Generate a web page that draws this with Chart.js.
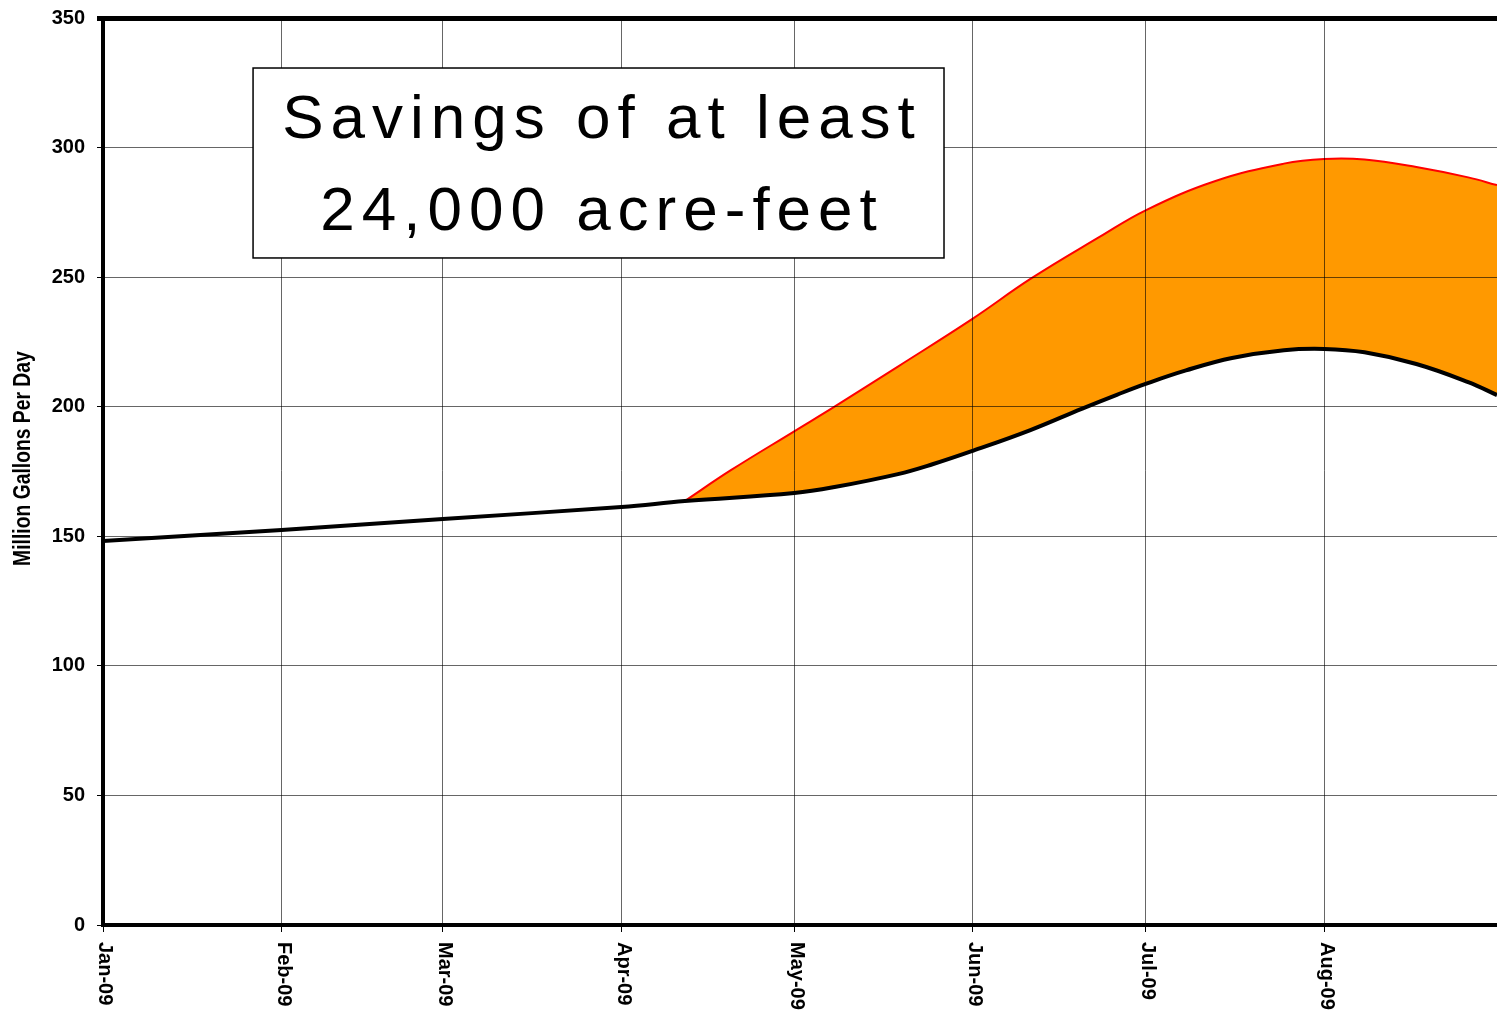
<!DOCTYPE html>
<html>
<head>
<meta charset="utf-8">
<script src="https://cdn.jsdelivr.net/npm/chart.js@4/dist/chart.umd.min.js"></script>
<style>
  html, body { margin: 0; padding: 0; background: #fff; }
  canvas { display: block; }
</style>
</head>
<body>
<canvas id="demandChart" width="1497" height="1015"></canvas>
<script>
// days counted from Jan 1 2009
const monthDays = [0, 31, 59, 90, 120, 151, 181, 212];
const monthLabels = ['Jan-09', 'Feb-09', 'Mar-09', 'Apr-09', 'May-09', 'Jun-09', 'Jul-09', 'Aug-09'];

// demand with conservation (black line)
const baseDays = [0, 31, 59, 90, 101, 120, 127, 138, 144, 151, 161, 170, 176, 181, 188, 196, 205, 212, 219, 228, 237, 242];
const baseValues = [148.2, 152.4, 156.7, 161.3, 163.6, 166.7, 169, 174, 177.8, 183, 191, 199.3, 204.6, 208.8, 214, 218.8, 221.8, 222.3, 221, 216.5, 209.5, 204.5];

// demand without conservation (red line)
const peakDays = [101, 109, 120, 127, 138, 151, 161, 173, 181, 193, 205, 212, 219, 228, 237, 242];
const peakValues = [163.6, 175.5, 190.5, 200, 215.5, 234, 249.3, 265.5, 275.8, 287, 293.8, 295.6, 295.4, 292.5, 288.5, 285.5];

const yTitle = 'Million Gallons Per Day';
const calloutLines = ['Savings of at least', '24,000 acre-feet'];

const toPoints = (xs, ys) => xs.map((x, i) => ({ x: x, y: ys[i] }));

const axisTextPlugin = {
    id: 'axisText',
    afterDraw(chart) {
        const ctx = chart.ctx;
        const xScale = chart.scales.x;
        const yScale = chart.scales.y;
        ctx.save();
        ctx.fillStyle = '#000';
        ctx.font = 'bold 20px "Liberation Sans", Arial, sans-serif';
        ctx.textAlign = 'left';
        ctx.textBaseline = 'middle';
        monthDays.forEach((d, i) => {
            const px = xScale.getPixelForValue(d);
            ctx.save();
            ctx.translate(px + 2, chart.chartArea.bottom + 17);
            ctx.rotate(Math.PI / 2);
            ctx.fillText(monthLabels[i], 0, 0);
            ctx.restore();
        });

        // narrow bold axis title
        ctx.save();
        ctx.translate(24, yScale.getPixelForValue(180));
        ctx.rotate(-Math.PI / 2);
        ctx.scale(0.84, 1);
        ctx.textAlign = 'center';
        ctx.font = 'bold 23px "Liberation Sans", Arial, sans-serif';
        ctx.fillText(yTitle, 0, 0);
        ctx.restore();
        ctx.restore();
    }
};

const calloutPlugin = {
    id: 'callout',
    afterDraw(chart) {
        const ctx = chart.ctx;
        const xs = chart.scales.x;
        const ys = chart.scales.y;
        const left = xs.getPixelForValue(26.05);
        const right = xs.getPixelForValue(146);
        const top = ys.getPixelForValue(330.7);
        const bottom = ys.getPixelForValue(257.4);
        ctx.save();
        ctx.fillStyle = '#fff';
        ctx.fillRect(left, top, right - left, bottom - top);
        ctx.strokeStyle = '#000';
        ctx.lineWidth = 1.5;
        ctx.strokeRect(left, top, right - left, bottom - top);
        ctx.fillStyle = '#000';
        ctx.font = '62px "Liberation Sans", Arial, sans-serif';
        ctx.textAlign = 'center';
        ctx.textBaseline = 'alphabetic';
        const cx = (left + right) / 2;
        ctx.letterSpacing = '7px';
        ctx.fillText(calloutLines[0], cx + 3.5, ys.getPixelForValue(303.7));
        ctx.fillText(calloutLines[1], cx + 3.5, ys.getPixelForValue(268.2));
        ctx.restore();
    }
};

const ctx = document.getElementById('demandChart').getContext('2d');
new Chart(ctx, {
    type: 'line',
    data: {
        datasets: [
            {
                label: 'With conservation',
                data: toPoints(baseDays, baseValues),
                borderColor: '#000',
                borderWidth: 4,
                pointRadius: 0,
                tension: 0.4,
                fill: false,
            },
            {
                label: 'Projected demand',
                data: toPoints(peakDays, peakValues),
                borderColor: '#ff0000',
                borderWidth: 2,
                pointRadius: 0,
                tension: 0.4,
                backgroundColor: '#ff9900',
                fill: 0,
            }
        ]
    },
    options: {
        responsive: false,
        animation: false,
        layout: { padding: { top: 18, right: 0, left: 0, bottom: 0 } },
        plugins: {
            legend: { display: false },
            tooltip: { enabled: false },
        },
        scales: {
            x: {
                type: 'linear',
                min: 0,
                max: 242,
                afterBuildTicks: (scale) => {
                    scale.ticks = monthDays.map(v => ({ value: v }));
                },
                afterFit: (scale) => {
                    scale.height = 90;
                    scale.paddingLeft = 0;
                    scale.paddingRight = 0;
                },
                ticks: { display: false },
                grid: {
                    z: 1,
                    color: 'rgba(0,0,0,0.6)',
                    lineWidth: 1,
                    drawTicks: true,
                    tickLength: 7,
                    tickColor: '#000',
                },
                border: { display: true, color: '#000', width: 4, z: 2 },
            },
            y: {
                min: 0,
                max: 350,
                afterFit: (scale) => {
                    scale.width = 103;
                    scale.paddingTop = 0;
                    scale.paddingBottom = 0;
                },
                ticks: {
                    stepSize: 50,
                    color: '#000',
                    padding: 12,
                    font: { family: '"Liberation Sans", Arial, sans-serif', size: 20, weight: 'bold' },
                },
                grid: {
                    z: 1,
                    color: (c) => c.tick && c.tick.value === 350 ? '#000' : 'rgba(0,0,0,0.6)',
                    lineWidth: (c) => c.tick && c.tick.value === 350 ? 5 : 1,
                    drawTicks: true,
                    tickLength: 6,
                    tickColor: '#000',
                },
                border: { display: true, color: '#000', width: 4, z: 2 },
            }
        }
    },
    plugins: [axisTextPlugin, calloutPlugin]
});
</script>
</body>
</html>
